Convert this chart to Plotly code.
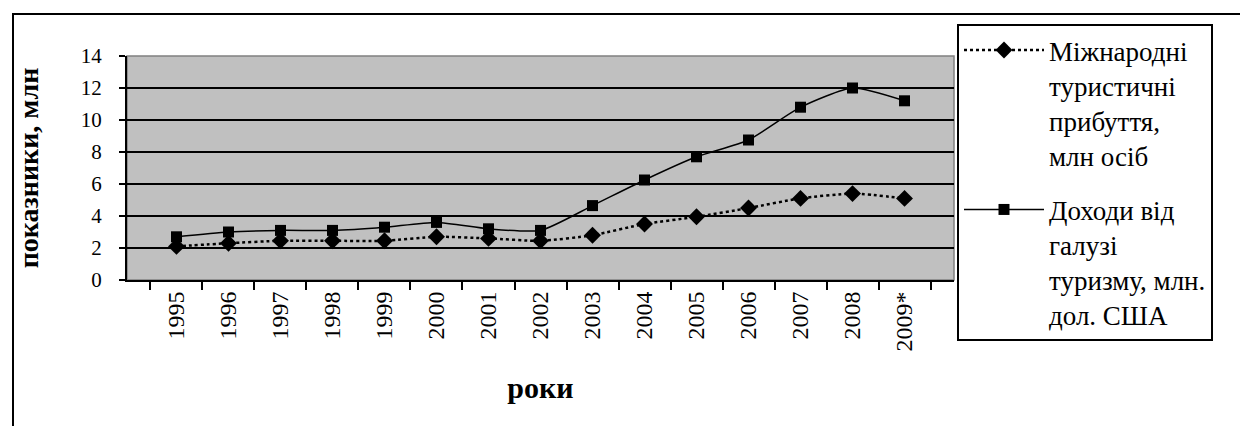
import plotly.graph_objects as go

years = ["1995", "1996", "1997", "1998", "1999", "2000", "2001", "2002",
         "2003", "2004", "2005", "2006", "2007", "2008", "2009*"]
arrivals = [2.1, 2.3, 2.45, 2.45, 2.45, 2.7, 2.6, 2.45, 2.8, 3.5, 3.95, 4.5, 5.1, 5.4, 5.1]
revenue = [2.7, 3.0, 3.1, 3.1, 3.3, 3.6, 3.2, 3.1, 4.65, 6.25, 7.7, 8.75, 10.8, 12.0, 11.2]
name_arrivals = "Міжнародні<br>туристичні<br>прибуття,<br>млн осіб"
name_revenue = "Доходи від<br>галузі<br>туризму, млн.<br>дол. США"
y_ticks = [0, 2, 4, 6, 8, 10, 12, 14]

FONT = "Liberation Serif"

fig = go.Figure()
fig.add_trace(go.Scatter(
    x=years, y=arrivals, name=name_arrivals, mode="lines+markers", legendgroup="a",
    line=dict(color="black", width=2.5, dash="dot", shape="spline", smoothing=0.6),
    marker=dict(symbol="diamond", size=13, color="black"),
))
fig.add_trace(go.Scatter(
    x=years, y=revenue, name=name_revenue, mode="lines+markers", legendgroup="b",
    line=dict(color="black", width=1.5, shape="spline", smoothing=0.6),
    marker=dict(symbol="square", size=11, color="black"),
))

L, R, T, B = 119, 946, 48, 272
W, H = 1248, 426
pw, ph = R - L, B - T

def px(x):
    return (x - L) / pw

def py(y):
    return (B - y) / ph

fig.update_layout(
    width=W, height=H,
    margin=dict(l=L, r=W - R, t=T, b=H - B, pad=0),
    paper_bgcolor="white",
    plot_bgcolor="#C0C0C0",
    font=dict(family=FONT, color="black", size=20),
    showlegend=True,
    legend=dict(
        x=px(949), y=py(16), xanchor="left", yanchor="top",
        bordercolor="black", borderwidth=2, bgcolor="white",
        font=dict(family=FONT, size=27, color="black"),
        valign="top", itemwidth=80, tracegroupgap=16, maxheight=400,
    ),
    xaxis=dict(
        type="category", tickson="boundaries", ticks="outside", ticklen=8,
        tickwidth=2, tickcolor="black", tickangle=-90,
        showline=True, linecolor="black", linewidth=2, showgrid=False,
        tickfont=dict(family=FONT, size=24),
        title=dict(text="<b>роки</b>", font=dict(family=FONT, size=30), standoff=26),
    ),
    yaxis=dict(
        range=[0, 14], tickvals=y_ticks, ticks="outside", ticklen=6,
        tickwidth=2, tickcolor="black",
        ticklabelposition="outside", ticklabelstandoff=13,
        showline=True, linecolor="black", linewidth=2,
        showgrid=True, gridcolor="black", gridwidth=2, zeroline=False,
        tickfont=dict(family=FONT, size=21),
        title=dict(text="<b>показники, млн</b>", font=dict(family=FONT, size=28), standoff=34),
    ),
    shapes=[
        dict(type="rect", xref="paper", yref="paper", x0=0, x1=1, y0=0, y1=1,
             line=dict(color="#808080", width=1.5), layer="below"),
        dict(type="rect", xref="paper", yref="paper",
             x0=px(5), x1=px(1243), y0=py(430), y1=py(6),
             line=dict(color="black", width=2)),
    ],
)

fig.write_html("out.html")
